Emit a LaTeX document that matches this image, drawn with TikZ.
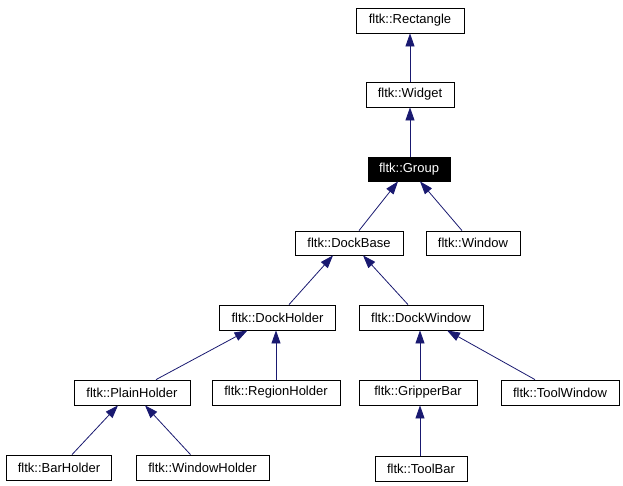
\documentclass[tikz,border=0pt]{standalone}
\usepackage{fontspec}
\setmainfont{Liberation Sans}
\usetikzlibrary{arrows.meta}
\definecolor{edgeblue}{RGB}{25,25,112}
\tikzset{
  cls/.style={draw=black, line width=0.8pt, inner sep=0pt, minimum height=25pt, font=\fontsize{13}{15}\selectfont},
  inherit/.style={draw=edgeblue, line width=0.8pt, -{Triangle[length=13pt,width=9pt]}}
}
\begin{document}
\begin{tikzpicture}[x=1pt,y=-1pt]
\useasboundingbox (0,0) rectangle (623,485);
\node[cls, minimum width=108pt] (rect) at (410,20.5) {fltk::Rectangle};
\node[cls, minimum width=88pt] (widget) at (410,94.5) {fltk::Widget};
\node[cls, fill=black, text=white, minimum width=82pt, minimum height=24pt] (group) at (409,169) {fltk::Group};
\node[cls, minimum width=108pt, minimum height=24pt] (dockbase) at (349,243) {fltk::DockBase};
\node[cls, minimum width=94pt, minimum height=24pt] (window) at (473,243) {fltk::Window};
\node[cls, minimum width=116pt] (dockholder) at (277.5,317.5) {fltk::DockHolder};
\node[cls, minimum width=124pt] (dockwindow) at (421,317.5) {fltk::DockWindow};
\node[cls, minimum width=116pt] (plainholder) at (132,392.5) {fltk::PlainHolder};
\node[cls, minimum width=128pt] (regionholder) at (276,392.5) {fltk::RegionHolder};
\node[cls, minimum width=118pt] (gripperbar) at (418,392.5) {fltk::GripperBar};
\node[cls, minimum width=118pt] (toolwindow) at (560,392.5) {fltk::ToolWindow};
\node[cls, minimum width=105pt] (barholder) at (59,467.5) {fltk::BarHolder};
\node[cls, minimum width=133pt] (windowholder) at (202.5,467.5) {fltk::WindowHolder};
\node[cls, minimum width=92pt] (toolbar) at (421,468.5) {fltk::ToolBar};
% inheritance edges
\draw[inherit] (widget.north) -- (rect.south);
\draw[inherit] ([xshift=1pt]group.north) -- (widget.south);
\draw[inherit] ([xshift=10pt]dockbase.north) -- ([xshift=-11pt]group.south);
\draw[inherit] ([xshift=-11pt]window.north) -- ([xshift=11pt]group.south);
\draw[inherit] ([xshift=11.5pt]dockholder.north) -- ([xshift=-16pt]dockbase.south);
\draw[inherit] ([xshift=-13pt]dockwindow.north) -- ([xshift=14pt]dockbase.south);
\draw[inherit] ([xshift=24pt]plainholder.north) -- ([xshift=-30pt]dockholder.south);
\draw[inherit] (regionholder.north) -- ([xshift=-1.5pt]dockholder.south);
\draw[inherit] ([xshift=2pt]gripperbar.north) -- ([xshift=-1pt]dockwindow.south);
\draw[inherit] ([xshift=-25pt]toolwindow.north) -- ([xshift=26pt]dockwindow.south);
\draw[inherit] ([xshift=13pt]barholder.north) -- ([xshift=-14pt]plainholder.south);
\draw[inherit] ([xshift=-12pt]windowholder.north) -- ([xshift=13pt]plainholder.south);
\draw[inherit] ([xshift=-1pt]toolbar.north) -- ([xshift=2pt]gripperbar.south);
\end{tikzpicture}
\end{document}
